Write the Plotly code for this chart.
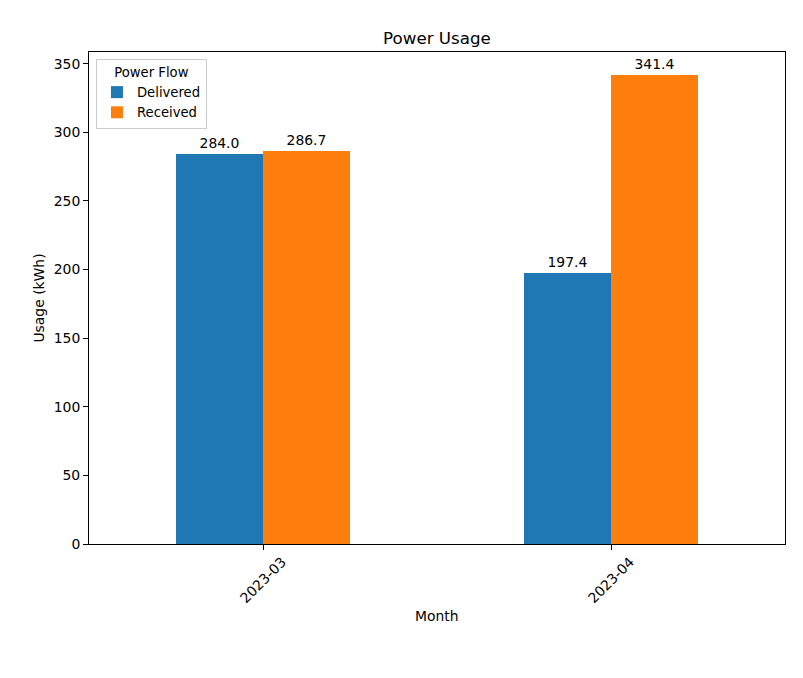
import plotly.graph_objects as go

months = ["2023-03", "2023-04"]
delivered = [284.0, 197.4]
received = [286.7, 341.4]
series_names = ["Delivered", "Received"]
colors = ["#1f77b4", "#ff7f0e"]
y_ticks = [0, 50, 100, 150, 200, 250, 300, 350]

FONT = "DejaVu Sans"
xpos = list(range(len(months)))
width = 0.25

fig = go.Figure()
for i, (name, vals) in enumerate(zip(series_names, [delivered, received])):
    offs = (i - 0.5) * width
    fig.add_trace(go.Bar(
        x=[p + offs for p in xpos], y=vals, width=width, name=name,
        marker=dict(color=colors[i], line=dict(width=0)),
        text=[f"{v:.1f}" for v in vals], textposition="outside",
        textfont=dict(family=FONT, size=13.9, color="black"),
        cliponaxis=False,
    ))

ymax = max(max(delivered), max(received)) * 1.05

for p, m in zip(xpos, months):
    fig.add_annotation(x=p, y=0, xref="x", yref="paper", text=m, showarrow=False,
                       textangle=-45, xanchor="center", yanchor="middle", yshift=-36,
                       font=dict(family=FONT, size=13.9, color="black"))

fig.add_annotation(x=0.5, y=0, xref="paper", yref="paper", text="Month", showarrow=False,
                   xanchor="center", yanchor="middle", yshift=-72,
                   font=dict(family=FONT, size=13.9, color="black"))

fig.update_layout(
    width=803, height=678,
    margin=dict(l=81, r=26, t=44, b=142),
    paper_bgcolor="white", plot_bgcolor="white",
    font=dict(family=FONT, size=13.9, color="black"),
    title=dict(text="Power Usage", x=0.5, xanchor="center", xref="paper",
               y=1 - 30/678, yanchor="middle", font=dict(size=16.7, family=FONT)),
    barmode="overlay",
    bargap=0,
    legend=dict(
        x=0.01, y=0.986, xanchor="left", yanchor="top",
        bgcolor="rgba(255,255,255,0.8)", bordercolor="#cccccc", borderwidth=1,
        title=dict(text="Power Flow", side="top center", font=dict(family=FONT, size=13.2)),
        font=dict(family=FONT, size=13.2),
        itemwidth=30, tracegroupgap=0,
    ),
    xaxis=dict(
        range=[-0.5, 1.5], tickvals=xpos, ticktext=["", ""],
        showline=True, linecolor="black", linewidth=1, mirror=True,
        ticks="outside", ticklen=5, tickcolor="black", showgrid=False, zeroline=False,
    ),
    yaxis=dict(
        range=[0, ymax], tickvals=y_ticks,
        showline=True, linecolor="black", linewidth=1, mirror=True,
        ticks="outside", ticklen=5, tickcolor="black", showgrid=False, zeroline=False,
        title=dict(text="Usage (kWh)", standoff=5, font=dict(family=FONT, size=13.9)),
    ),
)

fig.write_html("out.html")
